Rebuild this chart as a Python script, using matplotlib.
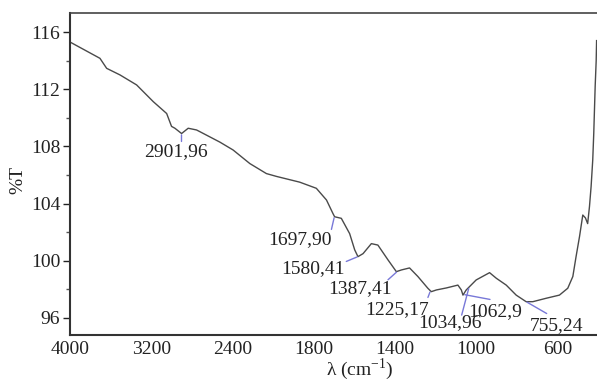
import numpy as np
import matplotlib
matplotlib.use("Agg")
import matplotlib.pyplot as plt
from matplotlib.ticker import FixedLocator, MultipleLocator

plt.rcParams['font.family'] = ['Liberation Serif', 'DejaVu Serif']
plt.rcParams['mathtext.fontset'] = 'custom'
plt.rcParams['mathtext.rm'] = 'Liberation Serif'

# FTIR spectrum (wavenumber cm-1, %T)
wavenumber = [4000, 3705, 3639, 3508, 3344, 3180, 3048, 3000, 2967, 2901, 2836,
              2754, 2721, 2524, 2394, 2229, 2066, 1983, 1869, 1787, 1737, 1705,
              1697, 1664, 1623, 1598, 1582, 1557, 1516, 1484, 1434, 1393, 1368,
              1328, 1287, 1238, 1221, 1196, 1147, 1090, 1073, 1065, 1049, 1000,
              934, 901, 852, 803, 754, 721, 655, 590, 549, 524, 508, 491, 475,
              462, 451, 442, 434, 426, 421, 414, 409, 407]
transmittance = [115.3, 114.16, 113.46, 113.0, 112.3, 111.13, 110.3, 109.4, 109.27,
                 108.9, 109.27, 109.15, 109.03, 108.3, 107.75, 106.8, 106.1, 105.9,
                 105.5, 105.07, 104.25, 103.3, 103.08, 102.97, 101.9, 100.76, 100.29,
                 100.5, 101.2, 101.1, 100.06, 99.24, 99.36, 99.5, 98.9, 98.08, 97.84,
                 97.96, 98.1, 98.3, 97.96, 97.6, 97.96, 98.66, 99.17, 98.78, 98.3,
                 97.6, 97.14, 97.14, 97.38, 97.6, 98.08, 98.9, 100.3, 101.7, 103.2,
                 103.0, 102.6, 103.8, 105.2, 107.05, 108.9, 112.2, 114.0, 115.4]

peak_positions = [2901.96, 1697.90, 1580.41, 1387.41, 1225.17, 1062.9, 1034.96, 755.24]
peak_labels = ['2901,96', '1697,90', '1580,41', '1387,41', '1225,17', '1062,9', '1034,96', '755,24']
# (line end offset, text offset) in pixels relative to the peak point
line_offsets = [(0, -8), (-3, -13), (-12, -5), (-9.5, -8.5), (-2.5, -6.6), (26.6, -5), (-7.4, -28), (20.8, -12)]
text_offsets = [(-6, -18.5), (-34, -23), (-45, -12), (-37.5, -17.5), (-33.5, -18.6), (31.6, -17), (-19, -36), (30.8, -23.6)]

x_ticks = [4000, 3200, 2400, 1800, 1400, 1000, 600]
y_ticks = [96, 100, 104, 108, 112, 116]


def fwd(x):
    x = np.asarray(x, dtype=float)
    return np.where(x >= 2000, 2000 + (x - 2000) / 2.0, x)


def inv(y):
    y = np.asarray(y, dtype=float)
    return np.where(y >= 2000, 2000 + (y - 2000) * 2.0, y)


W, H = 597, 383
fig = plt.figure(figsize=(W / 100, H / 100), dpi=100)
ax = fig.add_axes([70 / W, (H - 335) / H, 527 / W, 322 / H])

ax.set_xscale('function', functions=(fwd, inv))
ax.plot(wavenumber, transmittance, color='#4a4a4a', lw=1.0)
ax.set_xlim(4000, 405)
ax.set_ylim(94.81, 117.33)

ax.xaxis.set_major_locator(FixedLocator(x_ticks))
ax.xaxis.set_minor_locator(FixedLocator([]))
ax.set_xticklabels([str(t) for t in x_ticks])
ax.yaxis.set_major_locator(FixedLocator(y_ticks))
ax.yaxis.set_minor_locator(MultipleLocator(2))
ax.tick_params(axis='x', length=0, pad=4, labelsize=14, colors='#222222')
ax.tick_params(axis='y', which='major', length=5, width=1, pad=2, labelsize=14,
               direction='out', colors='#222222')
ax.tick_params(axis='y', which='minor', length=3, width=1, direction='out', colors='#555555')

for s in ['left', 'bottom']:
    ax.spines[s].set_linewidth(1.5)
    ax.spines[s].set_color('#333333')
ax.spines['top'].set_linewidth(1.2)
ax.spines['top'].set_color('#444444')
ax.spines['right'].set_visible(False)

ax.set_ylabel('%T', fontsize=14, color='#222222', va='center', ha='center')
ax.yaxis.set_label_coords((18 - 70) / 527, (335 - 180) / 322)
ax.set_xlabel(r'λ (cm$^{\mathregular{-1}}$)', fontsize=14, color='#222222',
              va='center', ha='center')
ax.xaxis.set_label_coords((360 - 70) / 527, (335 - 369) / 322)

wn_sorted = np.array(wavenumber[::-1])
t_sorted = np.array(transmittance[::-1])
for pos, lab, lo, to in zip(peak_positions, peak_labels, line_offsets, text_offsets):
    val = float(np.interp(pos, wn_sorted, t_sorted))
    ax.annotate('', xy=(pos, val), xytext=lo, textcoords='offset pixels',
                arrowprops=dict(arrowstyle='-', color='#7878d8', lw=1.0,
                                shrinkA=0, shrinkB=1))
    ax.annotate(lab, xy=(pos, val), xytext=to, textcoords='offset pixels',
                ha='center', va='center', fontsize=14, color='#222222')

fig.savefig('out.png', dpi=100)
